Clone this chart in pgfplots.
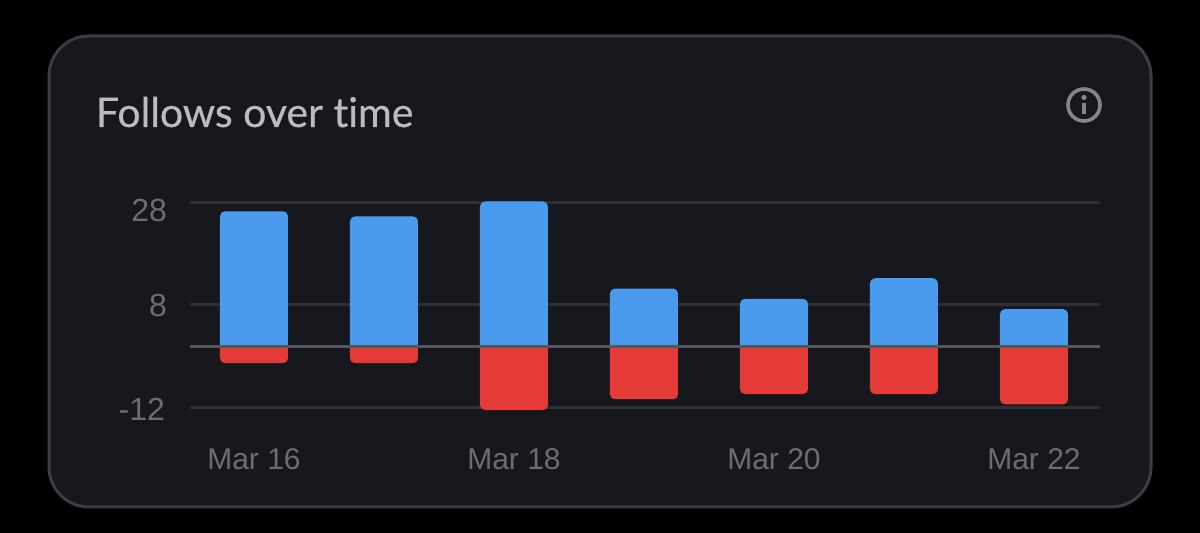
\documentclass[border=0pt]{standalone}
\usepackage{fontspec}
\setmainfont{Liberation Sans}
\newfontfamily\titlefont[FakeBold=0.5,Ligatures=NoCommon]{Lato}
\usepackage{pgfplots}
\pgfplotsset{compat=1.18}
\definecolor{panel}{HTML}{17181D}
\definecolor{edge}{HTML}{3C3D42}
\definecolor{gridc}{HTML}{2F3035}
\definecolor{zeroc}{HTML}{55565B}
\definecolor{tickc}{HTML}{6C6D71}
\definecolor{titlec}{HTML}{BBBCBF}
\definecolor{iconc}{HTML}{85868A}
\definecolor{barblue}{HTML}{4A9BEE}
\definecolor{barred}{HTML}{E53B38}
\begin{document}
\begin{tikzpicture}[x=0.5pt,y=-0.5pt]
\fill[black] (0,0) rectangle (1200,533);
\draw[edge,fill=panel,line width=1.5pt,rounded corners=20pt] (49,36) rectangle (1151,507);
\node[anchor=base west,inner sep=0pt,text=titlec,font=\titlefont\fontsize{20.5}{22}\selectfont] at (95.5,127) {Follows over time};
\draw[iconc,line width=1.8pt] (1084,105) circle (16);
\fill[iconc] (1084,97.5) circle (2.6);
\draw[iconc,line width=1.8pt] (1084,103) -- (1084,114);
\begin{axis}[
  at={(95pt,-204pt)}, anchor=south west,
  scale only axis, width=455pt, height=103pt,
  xmin=-0.4923, xmax=6.5077, ymin=-12, ymax=28,
  clip=false,
  axis line style={draw=none},
  tick style={draw=none},
  xtick={0,2,4,6},
  xticklabels={Mar 16,Mar 18,Mar 20,Mar 22},
  ytick={-12,8,28},
  yticklabels={\raisebox{-6.25pt}[0pt][0pt]{-12\kern1pt},\raisebox{-5.75pt}[0pt][0pt]{8},\raisebox{-9.75pt}[0pt][0pt]{28}},
  ymajorgrids,
  grid style={gridc,line width=1.5pt},
  x tick label style={text=tickc,font=\fontsize{15}{18}\selectfont,yshift=-16.5pt},
  y tick label style={text=tickc,font=\fontsize{16}{18}\selectfont,xshift=-8pt},
  bars/.style={ybar,bar width=34pt,bar shift=0pt,draw=none,fill=#1},
]
% blue: follows, red: unfollows (rounded ends)
\addplot[bars=barblue,rounded corners=2.5pt] coordinates {(0,26.2)(1,25.2)(2,28.1)(3,11.2)(4,9.2)(5,13.2)(6,7.2)};
\addplot[bars=barred,rounded corners=2.5pt] coordinates {(0,-3.3)(1,-3.3)(2,-12.4)(3,-10.3)(4,-9.3)(5,-9.3)(6,-11.3)};
% square feet at the zero line
\addplot[bars=barblue] coordinates {(0,1.1)(1,1.1)(2,1.1)(3,1.1)(4,1.1)(5,1.1)(6,1.1)};
\addplot[bars=barred] coordinates {(0,-1.1)(1,-1.1)(2,-1.1)(3,-1.1)(4,-1.1)(5,-1.1)(6,-1.1)};
\addplot[zeroc,line width=1.5pt,sharp plot] coordinates {(-0.4923,0)(6.5077,0)};
\end{axis}
\end{tikzpicture}
\end{document}
